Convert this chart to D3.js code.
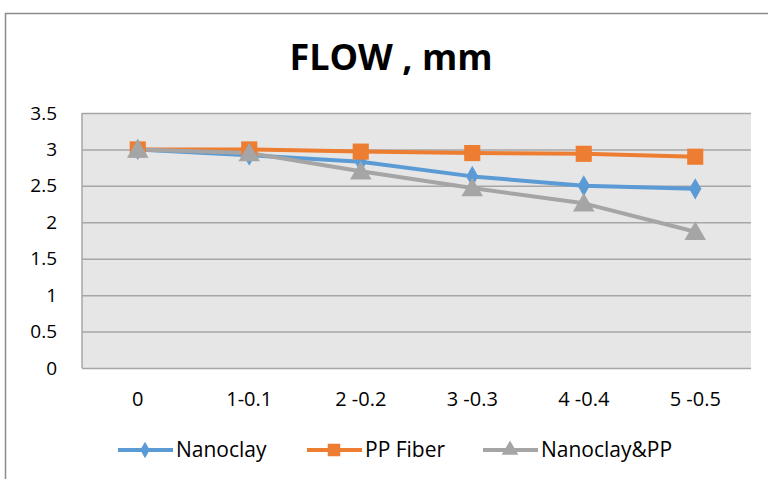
<!DOCTYPE html>
<html>
<head>
<meta charset="utf-8">
<script src="https://cdn.jsdelivr.net/npm/d3@7"></script>
<style>
  body { margin: 0; background: #fff; }
  text { font-family: "Open Sans", "Liberation Sans", Arial, sans-serif; }
</style>
</head>
<body>
<div id="chart"></div>
<script>
// Data
const categories = ["0", "1-0.1", "2 -0.2", "3 -0.3", "4 -0.4", "5 -0.5"];
const nanoclay = [3.0, 2.92, 2.83, 2.63, 2.50, 2.46];
const ppFiber = [3.0, 3.0, 2.97, 2.95, 2.94, 2.90];
const nanoclayPP = [3.0, 2.95, 2.70, 2.47, 2.26, 1.87];
const yTicks = [0, 0.5, 1, 1.5, 2, 2.5, 3, 3.5];
const seriesNames = ["Nanoclay", "PP Fiber", "Nanoclay&PP"];

const W = 768, H = 479;
const margin = { top: 113, right: 17, bottom: 111, left: 82 },
    width = W - margin.left - margin.right,
    height = H - margin.top - margin.bottom;

const svg = d3.select("#chart")
    .append("svg")
    .attr("width", W)
    .attr("height", H);

// outer frame (right/bottom edges fall off the picture)
svg.append("rect")
    .attr("x", 5.5).attr("y", 13.5)
    .attr("width", 800).attr("height", 500)
    .attr("fill", "#fff")
    .attr("stroke", "#8c8c8c")
    .attr("stroke-width", 1.5);

// title
svg.append("text")
    .attr("x", 391)
    .attr("y", 70)
    .attr("text-anchor", "middle")
    .style("font-size", "36px")
    .style("font-weight", "bold")
    .text("FLOW , mm");

const g = svg.append("g")
    .attr("transform", `translate(${margin.left},${margin.top})`);

g.append("rect")
    .attr("width", width)
    .attr("height", height)
    .attr("fill", "#e6e6e6");

const x = d3.scaleBand().domain(categories).range([0, width]);
const y = d3.scaleLinear().domain([0, 3.5]).range([height, 0]);

// Y axis with gridlines
const yAxis = g.append("g")
    .call(d3.axisLeft(y).tickValues(yTicks).tickSize(-width).tickPadding(25)
        .tickFormat(d => d));
yAxis.select(".domain").remove();
yAxis.selectAll("line").attr("stroke", "#a6a6a6").attr("stroke-width", 1.5);
yAxis.selectAll("text").style("font-size", "19px").attr("fill", "#000");

// left axis line
g.append("line")
    .attr("x1", 0).attr("x2", 0).attr("y1", 0).attr("y2", height)
    .attr("stroke", "#a6a6a6").attr("stroke-width", 1.5);

// X axis labels
const xAxis = g.append("g")
    .attr("transform", `translate(0,${height})`)
    .call(d3.axisBottom(x).tickSize(0).tickPadding(24));
xAxis.select(".domain").remove();
xAxis.selectAll("text").style("font-size", "20px").attr("fill", "#000");

const colors = ["#5b9bd5", "#ed7d31", "#a5a5a5"];
const shapes = [d3.symbolDiamond, d3.symbolSquare, d3.symbolTriangle];
const sizes = [130, 260, 200];
const allSeries = [nanoclay, ppFiber, nanoclayPP];

const line = d3.line()
    .x((d, i) => x(categories[i]) + x.bandwidth() / 2)
    .y(d => y(d));

allSeries.forEach((vals, k) => {
    g.append("path")
        .datum(vals)
        .attr("fill", "none")
        .attr("stroke", colors[k])
        .attr("stroke-width", 4)
        .attr("stroke-linejoin", "round")
        .attr("d", line);
});

allSeries.forEach((vals, k) => {
    g.selectAll(null)
        .data(vals)
        .enter()
        .append("path")
        .attr("transform", (d, i) => `translate(${x(categories[i]) + x.bandwidth() / 2},${y(d) + (k === 2 ? 2 : 0)})`)
        .attr("d", d3.symbol().type(shapes[k]).size(sizes[k]))
        .attr("fill", colors[k]);
});

// legend
const legendX = [118, 307, 483];
const legend = svg.append("g").attr("transform", "translate(0,450)");
seriesNames.forEach((name, k) => {
    const lg = legend.append("g").attr("transform", `translate(${legendX[k]},0)`);
    lg.append("line")
        .attr("x1", 0).attr("x2", 55)
        .attr("stroke", colors[k]).attr("stroke-width", 4);
    lg.append("path")
        .attr("transform", "translate(27,0)")
        .attr("d", d3.symbol().type(shapes[k]).size(sizes[k] * 0.6))
        .attr("fill", colors[k]);
    lg.append("text")
        .attr("x", 58)
        .attr("y", 7)
        .style("font-size", "21px")
        .text(name);
});
</script>
</body>
</html>
